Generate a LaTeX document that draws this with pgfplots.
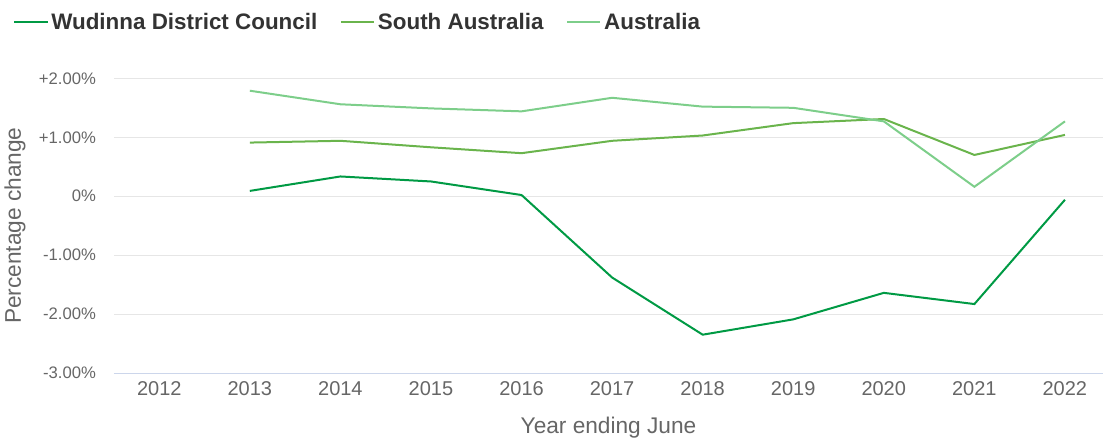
\documentclass[border=0pt]{standalone}
\usepackage{pgfplots}
\pgfplotsset{compat=1.18}
\usepackage{fontspec}
\setmainfont{Liberation Sans}

\definecolor{wud}{RGB}{0,154,68}
\definecolor{sa}{RGB}{106,180,76}
\definecolor{aus}{RGB}{125,206,138}
\definecolor{gridc}{RGB}{230,230,230}
\definecolor{axc}{RGB}{204,214,235}
\definecolor{tickc}{RGB}{102,102,102}
\definecolor{legc}{RGB}{51,51,51}

\begin{document}
\begin{tikzpicture}
\begin{axis}[
    scale only axis,
    width=741.75pt,
    height=221pt,
    xmin=2011.5, xmax=2022.42,
    ymin=-3, ymax=2,
    xtick={2012,...,2022},
    ytick={-3,-2,-1,0,1,2},
    yticklabels={-3.00\%,-2.00\%,-1.00\%,0\%,+1.00\%,+2.00\%},
    /pgf/number format/1000 sep={},
    /pgf/number format/assume math mode=true,
    axis x line*=bottom,
    axis y line*=left,
    x axis line style={draw=axc, line width=0.75pt},
    y axis line style={draw=none},
    major tick length=0pt,
    tick style={draw=none},
    ymajorgrids,
    major grid style={draw=gridc, line width=0.75pt},
    yticklabel style={font=\fontsize{12.5}{14}\selectfont, text=tickc, anchor=east, xshift=-10pt},
    xticklabel style={font=\fontsize{15}{17}\selectfont, text=tickc, anchor=north, yshift=-3pt},
    ylabel={Percentage change},
    xlabel={Year ending June},
    label style={font=\fontsize{17}{20}\selectfont, text=tickc},
    ylabel style={at={(axis description cs:-0.1,0.5)}, anchor=center},
    xlabel style={at={(axis description cs:0.5,-0.186)}, anchor=center},
    legend columns=3,
    legend style={draw=none, fill=none, inner sep=0pt,
        at={(axis description cs:-0.102,1.19)}, anchor=west,
        font=\bfseries\fontsize{16.8}{19}\selectfont, text=legc,
        /tikz/every even column/.append style={column sep=15pt}},
    legend cell align=left,
    legend image code/.code={\draw[#1, line width=1.5pt] (0pt,0pt) -- (25pt,0pt);},
    every axis plot/.append style={line width=1.5pt, mark=none},
]
\addplot[wud] coordinates {(2013,0.09) (2014,0.335) (2015,0.25) (2016,0.02) (2017,-1.38) (2018,-2.35) (2019,-2.09) (2020,-1.64) (2021,-1.83) (2022,-0.06)};
\addlegendentry{Wudinna District Council}
\addplot[sa] coordinates {(2013,0.91) (2014,0.94) (2015,0.83) (2016,0.73) (2017,0.94) (2018,1.03) (2019,1.24) (2020,1.31) (2021,0.70) (2022,1.04)};
\addlegendentry{South Australia}
\addplot[aus] coordinates {(2013,1.79) (2014,1.56) (2015,1.49) (2016,1.44) (2017,1.67) (2018,1.52) (2019,1.50) (2020,1.27) (2021,0.16) (2022,1.27)};
\addlegendentry{Australia}
\end{axis}
\pgfresetboundingbox
\path[use as bounding box] ([shift={(-85.5pt,-49.5pt)}]current axis.south west) rectangle ++(827.25pt,329.25pt);
\end{tikzpicture}
\end{document}
